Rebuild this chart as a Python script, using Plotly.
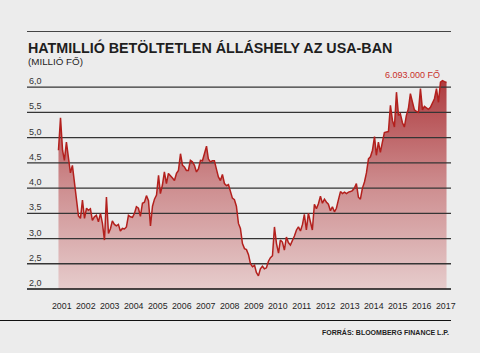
import pandas as pd
import plotly.graph_objects as go

# Job openings in the USA, million persons, monthly from Dec 2000
start_month = "2000-12-01"
openings = [
    4.75, 5.39, 4.75, 4.55, 4.91, 4.55, 4.30, 4.45, 4.15, 3.85,
    3.45, 3.40, 3.76, 3.40, 3.60, 3.56, 3.59, 3.36, 3.43, 3.46,
    3.33, 3.50, 3.30, 2.97, 3.82, 3.10, 3.20, 3.35, 3.28, 3.25,
    3.28, 3.15, 3.20, 3.19, 3.23, 3.46, 3.43, 3.42, 3.50, 3.63,
    3.60, 3.44, 3.70, 3.72, 3.85, 3.75, 3.25, 3.64, 3.78, 3.86,
    4.25, 3.89, 4.06, 4.32, 4.09, 4.29, 4.25, 4.20, 4.15, 4.29,
    4.35, 4.68, 4.45, 4.42, 4.35, 4.35, 4.55, 4.52, 4.45, 4.32,
    4.38, 4.55, 4.54, 4.70, 4.83, 4.58, 4.52, 4.54, 4.54, 4.38,
    4.22, 4.15, 4.27, 4.09, 4.05, 4.07, 3.92, 3.80, 3.77, 3.64,
    3.30, 3.20, 2.90, 2.80, 2.78, 2.68, 2.50, 2.44, 2.47, 2.33,
    2.26, 2.40, 2.45, 2.40, 2.42, 2.55, 2.62, 2.66, 3.23, 2.90,
    2.71, 2.97, 2.93, 2.77, 3.03, 2.92, 2.87, 2.95, 3.05, 3.17,
    3.23, 3.15, 3.28, 3.48, 3.17, 3.50, 3.30, 3.17, 3.68, 3.59,
    3.69, 3.84, 3.70, 3.78, 3.72, 3.68, 3.55, 3.63, 3.53, 3.60,
    3.77, 3.93, 3.89, 3.92, 3.89, 3.92, 3.93, 3.95, 4.00, 4.09,
    3.82, 3.78, 4.00, 4.12, 4.30, 4.58, 4.62, 4.75, 5.02, 4.65,
    4.91, 4.71, 4.91, 5.10, 5.11, 5.12, 5.64, 5.34, 5.21, 5.90,
    5.44, 5.47, 5.30, 5.21, 5.44, 5.57, 5.87, 5.67, 5.55, 5.52,
    5.50, 5.97, 5.55, 5.62, 5.58, 5.56, 5.60, 5.70, 5.77, 5.97,
    5.70, 6.10, 6.13, 6.11, 6.093,
]
year_labels = [str(y) for y in range(2001, 2018)]
y_ticks = [2.0, 2.5, 3.0, 3.5, 4.0, 4.5, 5.0, 5.5, 6.0]
last_label = "6.093.000 FŐ"
title = "HATMILLIÓ BETÖLTETLEN ÁLLÁSHELY AZ USA-BAN"
subtitle = "(MILLIÓ FŐ)"
source = "FORRÁS: BLOOMBERG FINANCE L.P."

dates = pd.date_range(start=start_month, periods=len(openings), freq="MS")
x_range = ["1999-08-10", "2017-04-10"]
y_range = [2.0, 6.3]

BG = "#ececec"
RED = "#b3201d"
TXT = "#1e1e1e"
FONT = "Liberation Sans, Arial, sans-serif"

fig = go.Figure()

# filled area
fig.add_trace(go.Scatter(
    x=dates, y=openings, mode="lines", line=dict(width=0),
    fill="tozeroy",
    fillgradient=dict(type="vertical", start=2.0, stop=6.15,
                      colorscale=[[0, "rgb(230,204,204)"],
                                  [0.5, "rgb(205,140,142)"],
                                  [1, "rgb(174,58,62)"]]),
    hoverinfo="skip", showlegend=False,
))

# horizontal grid lines drawn over the fill
gx, gy = [], []
for v in y_ticks[1:]:
    gx += [x_range[0], x_range[1], None]
    gy += [v, v, None]
fig.add_trace(go.Scatter(x=gx, y=gy, mode="lines",
                         line=dict(color="#353535", width=1.3),
                         hoverinfo="skip", showlegend=False))

# red line
fig.add_trace(go.Scatter(x=dates, y=openings, mode="lines",
                         line=dict(color=RED, width=1.5),
                         showlegend=False))

annotations = []
for v in y_ticks:
    annotations.append(dict(
        x=0, xref="paper", xanchor="left", xshift=0,
        y=v, yref="y", yanchor="bottom", yshift=-1,
        text=f"{v:.1f}".replace(".", ","), showarrow=False,
        font=dict(family=FONT, size=9, color="#333333"),
    ))

annotations.append(dict(
    x=dates[-1], y=openings[-1], xref="x", yref="y",
    xanchor="right", yanchor="bottom", xshift=-5, yshift=0,
    text=last_label, showarrow=False,
    font=dict(family=FONT, size=9, color="#c8302a"),
))

ph = 217.0
def py(p):
    return (289 - p) / ph

annotations.append(dict(
    x=0, xref="paper", xanchor="left", xshift=-1,
    y=py(47.5), yref="paper", yanchor="middle",
    text=f"<b>{title}</b>", showarrow=False,
    font=dict(family=FONT, size=14.3, color=TXT),
))
annotations.append(dict(
    x=0, xref="paper", xanchor="left", xshift=-1,
    y=py(61), yref="paper", yanchor="middle",
    text=subtitle, showarrow=False,
    font=dict(family=FONT, size=9.8, color=TXT),
))
annotations.append(dict(
    x=1, xref="paper", xanchor="right",
    y=py(332), yref="paper", yanchor="middle",
    text=f"<b>{source}</b>", showarrow=False,
    font=dict(family=FONT, size=7, color=TXT),
))

pw = 424.0
shapes = [
    dict(type="line", xref="paper", yref="paper",
         x0=0, x1=1, y0=0, y1=0, line=dict(color="#111111", width=1.3)),
    dict(type="line", xref="paper", yref="paper",
         x0=-27 / pw, x1=1, y0=py(320.5), y1=py(320.5),
         line=dict(color="#111111", width=1.2)),
    dict(type="line", xref="paper", yref="paper",
         x0=0, x1=1, y0=py(31.5), y1=py(31.5),
         line=dict(color="#444444", width=1)),
]

fig.update_layout(
    width=480, height=353,
    margin=dict(l=27, r=29, t=72, b=64, pad=0),
    paper_bgcolor=BG, plot_bgcolor=BG,
    showlegend=False,
    annotations=annotations,
    shapes=shapes,
    xaxis=dict(
        type="date", range=x_range, showgrid=False, zeroline=False,
        showline=False,
        tickmode="array",
        tickvals=[f"{y}-01-20" for y in year_labels],
        ticktext=year_labels,
        ticks="outside", ticklen=8, tickcolor=BG,
        tickfont=dict(family=FONT, size=8.8, color=TXT),
        fixedrange=True,
    ),
    yaxis=dict(
        range=y_range, showgrid=False, zeroline=False, showline=False,
        showticklabels=False, fixedrange=True,
    ),
)

fig.write_html("out.html")
